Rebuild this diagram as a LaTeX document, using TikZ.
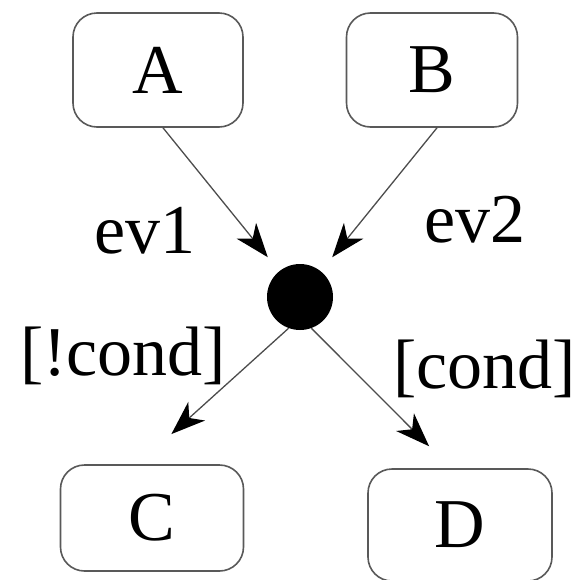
\documentclass[tikz,border=0pt]{standalone}
\usepackage{fontspec}
\setmainfont{Liberation Serif}
\usetikzlibrary{arrows.meta}
\begin{document}
\begin{tikzpicture}[x=1pt,y=-1pt,
  state/.style={draw=black!65, line width=1.6pt, rounded corners=24pt, font=\fontsize{70}{70}\selectfont, inner sep=0pt},
  lbl/.style={font=\fontsize{70}{70}\selectfont, inner sep=0pt, anchor=base west},
  arr/.style={draw=black!70, line width=1.3pt, -{Stealth[length=34pt,width=25pt,inset=10pt,color=black]}}]
\useasboundingbox (0,0) rectangle (581,579);
\node[state, minimum width=170pt, minimum height=114pt] (A) at (158,70) {A};
\node[state, minimum width=171pt, minimum height=114pt] (B) at (432,70) {B};
\node[state, minimum width=183pt, minimum height=106pt] (C) at (152,518) {C};
\node[state, minimum width=184pt, minimum height=112pt] (D) at (460,525) {D};
\node[circle, fill=black, minimum size=66pt, inner sep=0pt] (j) at (300,297) {};
\draw[arr, shorten >=18pt] ([xshift=5pt]A.south) -- (j);
\draw[arr, shorten >=18pt] ([xshift=5pt]B.south) -- (j);
\draw[arr, shorten >=45pt] (j.-110) -- ([xshift=-14pt]C.north);
\draw[arr, shorten >=31pt] (j.-70) -- ([xshift=-9pt]D.north);
\node[lbl] (ev1) at (94,253) {ev1};
\node[lbl] (ev2) at (424,242) {ev2};
\node[lbl] (nc) at (20,375) {[!cond]};
\node[lbl] (c) at (393,388) {[cond]};
\end{tikzpicture}
\end{document}
